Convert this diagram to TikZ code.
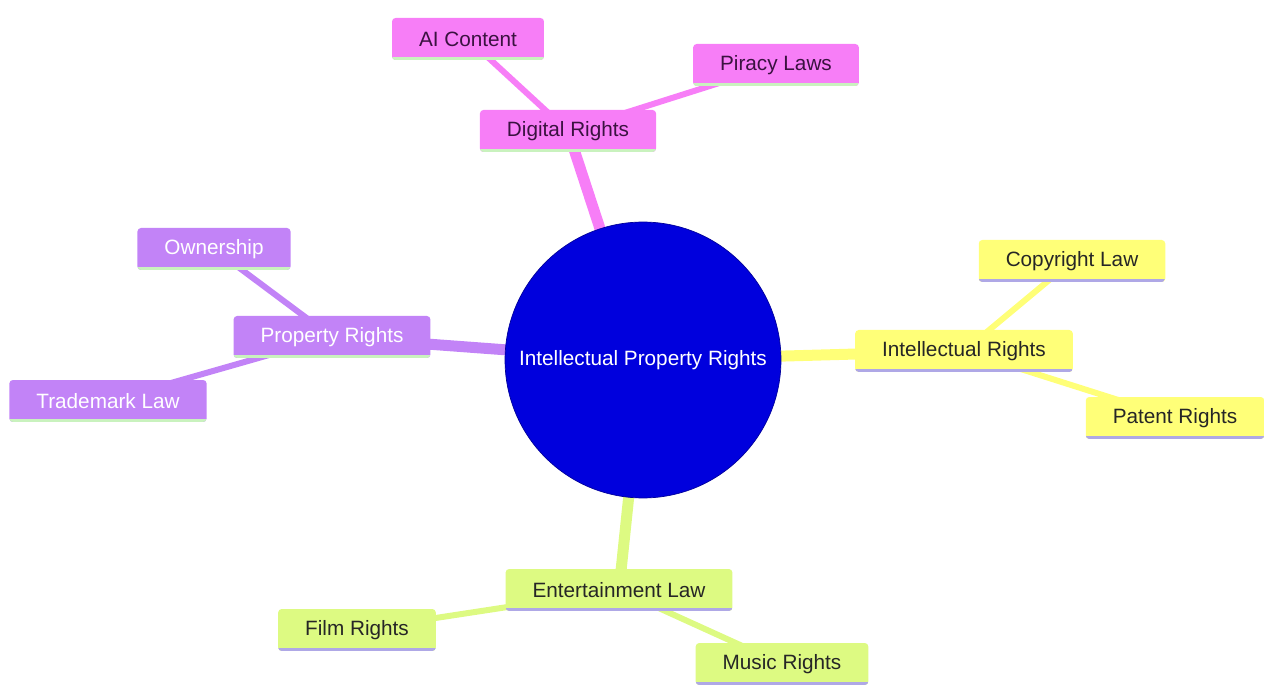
\documentclass[tikz,border=0pt]{standalone}
\usepackage{fontspec}
\setmainfont{Liberation Sans}
\usepackage{tikz}
\usetikzlibrary{backgrounds}

\definecolor{pinkbox}{HTML}{F77EF7}
\definecolor{purplebox}{HTML}{C283F7}
\definecolor{yellowbox}{HTML}{FFFF78}
\definecolor{greenbox}{HTML}{DDFA82}
\definecolor{pinktext}{HTML}{3A1240}
\definecolor{lavline}{HTML}{AFA8E6}
\definecolor{mintline}{HTML}{C9F2BE}
\definecolor{rootblue}{HTML}{0000DD}

\begin{document}
\begin{tikzpicture}[x=0.02cm,y=-0.02cm,
  box/.style={rounded corners=2pt, minimum height=0.84cm, inner xsep=0.54cm,
    font=\fontsize{11.8}{14}\selectfont},
  uline/.style={path picture={\draw[line width=0.12cm,#1]
    (path picture bounding box.south west) -- (path picture bounding box.south east);}},
  pinknode/.style={box, fill=pinkbox, text=pinktext, uline=mintline},
  purplenode/.style={box, fill=purplebox, text=white, uline=mintline},
  yellownode/.style={box, fill=yellowbox, text=black!85, uline=lavline},
  greennode/.style={box, fill=greenbox, text=black!85, uline=lavline},
  trunk/.style={line width=0.22cm},
  twig/.style={line width=0.12cm},
]
  \useasboundingbox (0,0) rectangle (1264,688);

  % root
  \node[circle, fill=rootblue, draw=rootblue!70!black, minimum size=5.52cm,
    text=white, font=\fontsize{11.8}{14}\selectfont] (ipr) at (643,360)
    {Intellectual Property Rights};

  % digital rights
  \node[pinknode] (digital) at (568,131) {Digital Rights};
  \node[pinknode] (ai) at (468,39) {AI Content};
  \node[pinknode] (piracy) at (776,65) {Piracy Laws};

  % property rights
  \node[purplenode] (property) at (332,337) {Property Rights};
  \node[purplenode] (owner) at (214,249) {Ownership};
  \node[purplenode] (trademark) at (108,401) {Trademark Law};

  % intellectual rights
  \node[yellownode] (intellect) at (964,351) {Intellectual Rights};
  \node[yellownode] (copyright) at (1072,261) {Copyright Law};
  \node[yellownode] (patent) at (1175,418) {Patent Rights};

  % entertainment law
  \node[greennode] (entertain) at (619,590) {Entertainment Law};
  \node[greennode] (film) at (357,630) {Film Rights};
  \node[greennode] (music) at (782,664) {Music Rights};

  \begin{scope}[on background layer]
    \draw[trunk, draw=pinkbox] (ipr.center) -- (digital.center);
    \draw[trunk, draw=purplebox] (ipr.center) -- (property.center);
    \draw[trunk, draw=yellowbox] (ipr.center) -- (intellect.center);
    \draw[trunk, draw=greenbox] (ipr.center) -- (entertain.center);
    \draw[twig, draw=pinkbox] (digital.center) -- (ai.center);
    \draw[twig, draw=pinkbox] (digital.center) -- (piracy.center);
    \draw[twig, draw=purplebox] (property.center) -- (owner.center);
    \draw[twig, draw=purplebox] (property.center) -- (trademark.center);
    \draw[twig, draw=yellowbox] (intellect.center) -- (copyright.center);
    \draw[twig, draw=yellowbox] (intellect.center) -- (patent.center);
    \draw[twig, draw=greenbox] (entertain.center) -- (film.center);
    \draw[twig, draw=greenbox] (entertain.center) -- (music.center);
  \end{scope}
\end{tikzpicture}
\end{document}
